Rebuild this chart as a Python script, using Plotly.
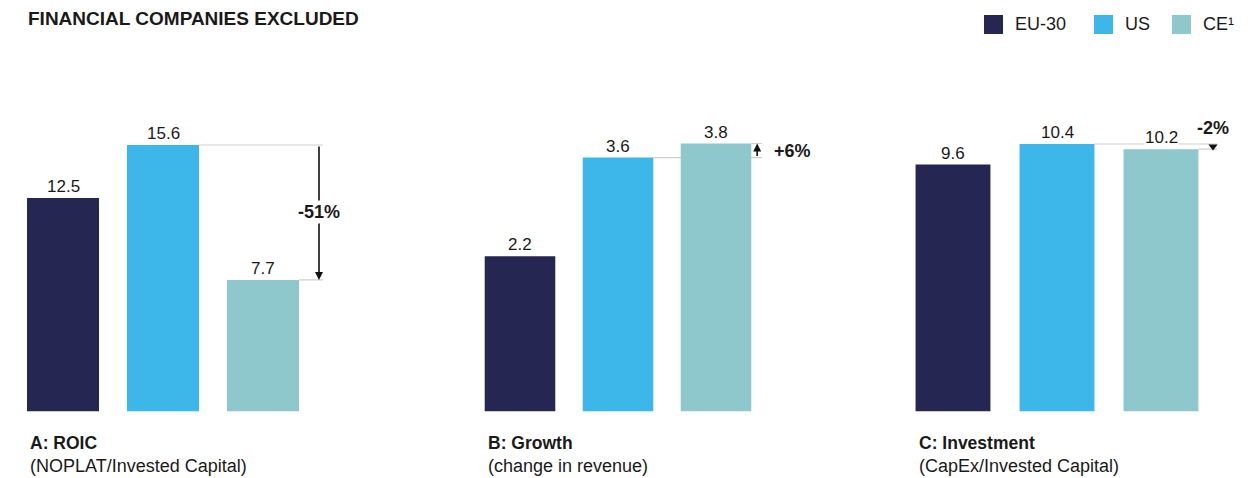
import plotly.graph_objects as go

# ---------------- data ----------------
categories = ["EU-30", "US", "CE"]
legend_labels = ["EU-30", "US", "CE¹"]
panel_titles = ["A: ROIC", "B: Growth", "C: Investment"]
panel_subtitles = ["(NOPLAT/Invested Capital)", "(change in revenue)", "(CapEx/Invested Capital)"]
roic = [12.5, 15.6, 7.7]
growth = [2.2, 3.6, 3.8]
investment = [9.6, 10.4, 10.2]
changes = ["-51%", "+6%", "-2%"]
title_text = "FINANCIAL COMPANIES EXCLUDED"

# ---------------- style ----------------
OFF = 8                      # page body margin
W, H = 1258 - OFF, 478 - OFF  # figure size
def fx(px):                  # reference px -> figure px
    return px - OFF
def fy(py):
    return py - OFF

BASE = fy(411.5)
colors = ["#252652", "#3DB7E9", "#8FC8CC"]
FONT = "Liberation Sans, Arial, sans-serif"
TXT = "#1a1a1a"
GRAY = "#cfcfcf"

# pixel layout per panel (reference px): first bar centre, bar spacing, domain px, top px of max bar
layouts = [
    dict(c0=63, s=100, p0=8, p1=430, top=145, w=0.72, arrow_dx=0.56, line_dx=0.60, mode="mid"),
    dict(c0=520, s=98, p0=430, p1=870, top=143.5, w=0.72, arrow_dx=0.42, line_dx=0.47, mode="right"),
    dict(c0=953, s=104, p0=870, p1=1258, top=144, w=0.72, arrow_dx=0.50, line_dx=0.54, mode="above"),
]
series = [roic, growth, investment]

fig = go.Figure()
annotations = []
shapes = []
ydom0 = (H - BASE) / H

for i, (vals, L) in enumerate(zip(series, layouts)):
    xa = "x" if i == 0 else f"x{i+1}"
    ya = "y" if i == 0 else f"y{i+1}"
    xs = list(range(len(vals)))
    fig.add_trace(go.Bar(
        x=xs, y=vals, width=L["w"], marker=dict(color=colors, line=dict(width=0)),
        xaxis=xa, yaxis=ya, showlegend=False, hoverinfo="skip",
    ))
    c0 = fx(L["c0"]); p0 = fx(L["p0"]); p1 = fx(L["p1"]); top = fy(L["top"])
    a = (p0 - c0) / L["s"]
    b = (p1 - c0) / L["s"]
    ymax = max(vals) * BASE / (BASE - top)
    axname = "xaxis" if i == 0 else f"xaxis{i+1}"
    ayname = "yaxis" if i == 0 else f"yaxis{i+1}"
    fig.update_layout(**{
        axname: dict(domain=[p0 / W, min(p1 / W, 1)], range=[a, b], visible=False,
                     anchor=ya, fixedrange=True),
        ayname: dict(domain=[ydom0, 1], range=[0, ymax], visible=False,
                     anchor=xa, fixedrange=True),
    })
    # value labels
    for xv, v in zip(xs, vals):
        annotations.append(dict(
            x=xv, y=v, xref=xa, yref=ya, text=f"{v:.1f}", showarrow=False,
            yanchor="bottom", yshift=1, bgcolor="white", borderpad=0,
            font=dict(family=FONT, size=17, color=TXT),
        ))
    us, ce = vals[1], vals[2]
    xe = 2 + L["line_dx"]
    xarr = 2 + L["arrow_dx"]
    # reference lines
    shapes.append(dict(type="line", xref=xa, yref=ya, x0=1 + L["w"] / 2, x1=xe, y0=us, y1=us,
                       line=dict(color=GRAY, width=1.2), layer="below"))
    shapes.append(dict(type="line", xref=xa, yref=ya, x0=2 + L["w"] / 2, x1=xe, y0=ce, y1=ce,
                       line=dict(color=GRAY, width=1.2), layer="below"))
    px_len = abs(us - ce) * (BASE - top) / max(vals)
    if px_len > 10:
        annotations.append(dict(
            x=xarr, y=ce, ax=xarr, ay=us, xref=xa, yref=ya, axref=xa, ayref=ya,
            text="", showarrow=True, arrowhead=2, arrowsize=1, arrowwidth=1.6,
            arrowcolor="#111111", standoff=0, startstandoff=0,
        ))
    else:
        fig.add_trace(go.Scatter(
            x=[xarr], y=[(us + ce) / 2], xaxis=xa, yaxis=ya, mode="markers",
            marker=dict(symbol="triangle-down", size=8, color="#111111"),
            showlegend=False, hoverinfo="skip",
        ))
    # change label
    lab = dict(text=f"<b>{changes[i]}</b>", showarrow=False, xref=xa, yref=ya,
               font=dict(family=FONT, size=18, color=TXT), bgcolor="white", borderpad=1)
    if L["mode"] == "mid":
        lab.update(x=xarr, y=(us + ce) / 2, xanchor="center", yanchor="middle")
    elif L["mode"] == "right":
        lab.update(x=xarr + 0.15, y=(us + ce) / 2, xanchor="left", yanchor="middle", bgcolor=None)
    else:
        lab.update(x=xarr, y=us, xanchor="center", yanchor="bottom", yshift=4, bgcolor=None)
    annotations.append(lab)
    # panel titles
    tx = fx(L["c0"] - L["s"] * L["w"] / 2 + 1) / W
    annotations.append(dict(
        x=tx, y=1 - fy(443) / H, xref="paper", yref="paper",
        text=f"<b>{panel_titles[i]}</b>", showarrow=False, xanchor="left", yanchor="middle",
        font=dict(family=FONT, size=17.5, color=TXT),
    ))
    annotations.append(dict(
        x=tx, y=1 - fy(466) / H, xref="paper", yref="paper",
        text=panel_subtitles[i], showarrow=False, xanchor="left", yanchor="middle",
        font=dict(family=FONT, size=18, color=TXT),
    ))

# title
annotations.append(dict(
    x=fx(27) / W, y=1 - fy(18) / H, xref="paper", yref="paper", text=f"<b>{title_text}</b>",
    showarrow=False, xanchor="left", yanchor="middle", borderpad=0,
    font=dict(family=FONT, size=19, color=TXT),
))

# manual legend
leg_sq = [984, 1094, 1172]
for lab_txt, col, x0 in zip(legend_labels, colors, leg_sq):
    shapes.append(dict(type="rect", xref="paper", yref="paper",
                       x0=fx(x0) / W, x1=fx(x0 + 19) / W, y0=1 - fy(34) / H, y1=1 - fy(15) / H,
                       fillcolor=col, line=dict(width=0)))
    annotations.append(dict(
        x=fx(x0 + 29) / W, y=1 - fy(24.5) / H, xref="paper", yref="paper", text=lab_txt,
        showarrow=False, xanchor="left", yanchor="middle",
        font=dict(family=FONT, size=18, color=TXT),
    ))

fig.update_layout(
    width=W, height=H, margin=dict(l=0, r=0, t=0, b=0),
    paper_bgcolor="white", plot_bgcolor="white",
    annotations=annotations, shapes=shapes, showlegend=False,
)

fig.write_html("out.html")
